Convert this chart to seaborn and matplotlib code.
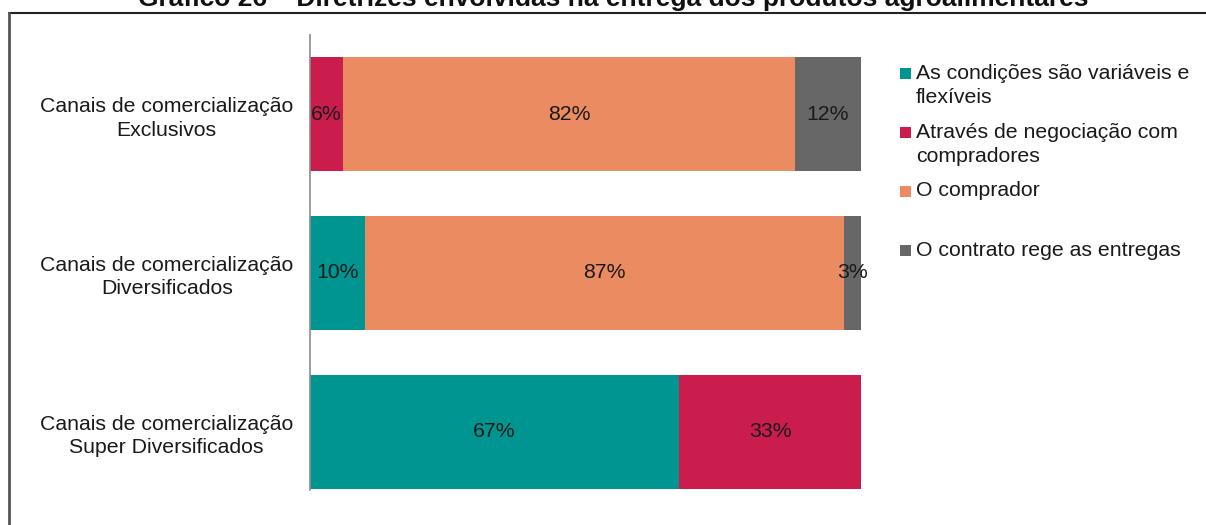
import numpy as np
import pandas as pd
import matplotlib
matplotlib.use("Agg")
import matplotlib.pyplot as plt
from matplotlib.lines import Line2D
from matplotlib.patches import Rectangle
import seaborn as sns

# Data: share of each delivery guideline per marketing-channel group (%)
categories = [
    "Canais de comercialização\nExclusivos",
    "Canais de comercialização\nDiversificados",
    "Canais de comercialização\nSuper Diversificados",
]
series_names = [
    "As condições são variáveis e\nflexíveis",
    "Através de negociação com\ncompradores",
    "O comprador",
    "O contrato rege as entregas",
]
condicoes_variaveis = [0, 10, 67]
negociacao_compradores = [6, 0, 33]
o_comprador = [82, 87, 0]
contrato_rege = [12, 3, 0]

colors = ["#009591", "#CB1D4D", "#EB8B62", "#676767"]
title = "Gráfico 26 – Diretrizes envolvidas na entrega dos produtos agroalimentares"

sns.set_theme(style="white")
plt.rcParams["font.family"] = ["Liberation Sans", "DejaVu Sans"]

W, H = 1206, 525
fig = plt.figure(figsize=(W / 100, H / 100), dpi=100)
fig.patch.set_facecolor("white")


def fx(px):
    return px / W


def fy(py):
    return 1 - py / H


ax = fig.add_axes([fx(310), fy(490), fx(861) - fx(310), fy(35) - fy(490)])

values = np.array([condicoes_variaveis, negociacao_compradores, o_comprador, contrato_rege], dtype=float)
cum = np.cumsum(values, axis=0)

# Stacked bars: draw cumulative totals from the outermost segment inwards
for i in range(len(series_names) - 1, -1, -1):
    df = pd.DataFrame({"cat": categories, "val": cum[i]})
    sns.barplot(data=df, x="val", y="cat", orient="h", color=colors[i],
                saturation=1, width=0.72, ax=ax, edgecolor="none", linewidth=0)

# Percentage labels centred in each segment
for i in range(len(series_names)):
    for j in range(len(categories)):
        v = values[i, j]
        if v > 0:
            xc = cum[i, j] - v / 2
            ax.text(xc, j, f"{int(v)}%", ha="center", va="center",
                    fontsize=15.3, color="#1a1a1a")

ax.set_xlim(0, 100)
ax.set_ylim(2.365, -0.497)
ax.set_xlabel("")
ax.set_ylabel("")
ax.set_xticks([])
ax.tick_params(axis="y", length=0, pad=12, labelsize=15.3, labelcolor="#1a1a1a")
for lab in ax.get_yticklabels():
    lab.set_multialignment("center")
    lab.set_linespacing(1.3)
for s in ["top", "right", "bottom"]:
    ax.spines[s].set_visible(False)
ax.spines["left"].set_color("#8c8c8c")
ax.spines["left"].set_linewidth(1.2)
ax.set_facecolor("none")

# Legend, one square marker per series with wrapped labels
legend_centres = [73.5, 132.5, 191, 250]
for name, col, yc in zip(series_names, colors, legend_centres):
    fig.patches.append(Rectangle((fx(900), fy(yc + 5.5)), fx(11), 11 / H,
                                 transform=fig.transFigure, facecolor=col,
                                 edgecolor="none"))
    for k, line in enumerate(name.split("\n")):
        fig.text(fx(916), fy(yc + k * 24), line, ha="left", va="center",
                 fontsize=15.3, color="#1a1a1a")

# Outer frame
fig.add_artist(Line2D([fx(9), 1], [fy(12.5), fy(12.5)], transform=fig.transFigure,
                      color="#222222", linewidth=1.5))
fig.add_artist(Line2D([fx(9), fx(9)], [fy(12.5), 0], transform=fig.transFigure,
                      color="#555555", linewidth=2))

fig.text(fx(613), fy(6), title, ha="center", va="baseline",
         fontsize=19, fontweight="bold", color="#111111")

fig.savefig("out.png", dpi=100)
